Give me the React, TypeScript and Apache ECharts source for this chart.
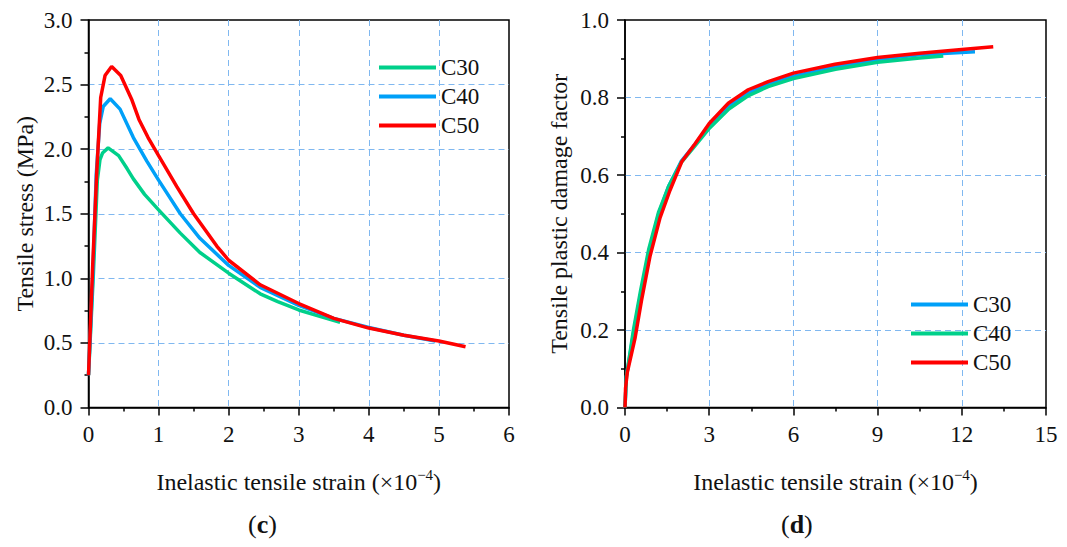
import React, { useEffect, useRef } from "react";
import * as echarts from "echarts";

// ---- Panel (c): tensile stress vs inelastic tensile strain ----
const stressC30: [number, number][] = [
  [0, 0.25], [0.07, 1.04], [0.126, 1.76], [0.164, 1.92], [0.2, 1.97], [0.28, 2.01],
  [0.43, 1.95], [0.55, 1.85], [0.64, 1.77], [0.8, 1.65], [1.0, 1.53], [1.31, 1.35],
  [1.59, 1.2], [2.0, 1.04], [2.45, 0.88], [2.7, 0.82], [3.0, 0.755], [3.3, 0.705], [3.59, 0.66],
];
const stressC40: [number, number][] = [
  [0, 0.25], [0.06, 1.0], [0.11, 1.8], [0.16, 2.2], [0.21, 2.33], [0.31, 2.39],
  [0.45, 2.31], [0.64, 2.09], [0.83, 1.91], [1.0, 1.76], [1.31, 1.5], [1.59, 1.31],
  [2.0, 1.1], [2.45, 0.93], [3.0, 0.79], [3.5, 0.69], [4.0, 0.62], [4.5, 0.56], [4.95, 0.515],
];
const stressC50: [number, number][] = [
  [0, 0.25], [0.06, 1.1], [0.117, 1.81], [0.174, 2.4], [0.236, 2.57], [0.33, 2.64],
  [0.46, 2.57], [0.62, 2.38], [0.72, 2.23], [0.85, 2.09], [1.0, 1.95], [1.26, 1.71], [1.5, 1.5],
  [1.83, 1.25], [2.0, 1.14], [2.45, 0.95], [3.0, 0.805], [3.5, 0.69], [4.0, 0.615],
  [4.5, 0.56], [5.0, 0.515], [5.38, 0.47],
];

// ---- Panel (d): tensile plastic damage factor vs inelastic tensile strain ----
const damageC30: [number, number][] = [
  [0, 0], [0.05, 0.08], [0.3, 0.19], [0.55, 0.29], [0.85, 0.4], [1.2, 0.5], [1.55, 0.57],
  [2.0, 0.635], [2.5, 0.68], [3.0, 0.727], [3.7, 0.778], [4.4, 0.812], [5.1, 0.834],
  [6.0, 0.855], [7.5, 0.879], [9.0, 0.898], [10.5, 0.91], [12.47, 0.918],
];
const damageC40: [number, number][] = [
  [0, 0], [0.05, 0.08], [0.3, 0.2], [0.55, 0.3], [0.85, 0.41], [1.2, 0.505], [1.55, 0.57],
  [2.0, 0.632], [2.5, 0.676], [3.0, 0.72], [3.7, 0.77], [4.4, 0.805], [5.1, 0.828],
  [6.0, 0.849], [7.5, 0.873], [9.0, 0.891], [10.5, 0.902], [11.34, 0.907],
];
const damageC50: [number, number][] = [
  [0, 0], [0.02, 0.05], [0.08, 0.09], [0.36, 0.18], [0.59, 0.277], [0.89, 0.39], [1.25, 0.49],
  [1.6, 0.56], [2.02, 0.634], [2.49, 0.68], [3.0, 0.733], [3.68, 0.785], [4.39, 0.82],
  [5.1, 0.841], [6.0, 0.863], [7.48, 0.886], [9.0, 0.903], [10.5, 0.914], [12.0, 0.924], [13.12, 0.931],
];

const legendNames = ["C30", "C40", "C50"];
const xTitle = "Inelastic tensile strain (×10";
const xTitleSup = "−4";
const yTitleC = "Tensile stress (MPa)";
const yTitleD = "Tensile plastic damage factor";
const panelC = "c";
const panelD = "d";

const GREEN = "#00d08a";
const BLUE = "#00a0f8";
const RED = "#ff0000";
const GRID_COLOR = "#80b8f0";
const FONT = "Liberation Serif";
const TICK_FS = 23;
const TITLE_FS = 24;

function makeX(gridIndex: number, max: number, interval: number) {
  return {
    type: "value",
    gridIndex,
    min: 0,
    max,
    interval,
    name: `{t|${xTitle}}{s|${xTitleSup}}{t|)}`,
    nameLocation: "middle",
    nameGap: 60,
    nameTextStyle: {
      rich: {
        t: { fontFamily: FONT, fontSize: TITLE_FS, color: "#111", lineHeight: 28 },
        s: { fontFamily: FONT, fontSize: 15, color: "#111", verticalAlign: "top", lineHeight: 28, padding: [0, 0, 11, 0] },
      },
    },
    axisLine: { show: true, onZero: false, lineStyle: { color: "#000", width: 1.5 } },
    axisTick: { show: true, length: 8, lineStyle: { color: "#000", width: 1.5 } },
    minorTick: { show: true, splitNumber: 2, length: 4, lineStyle: { color: "#000", width: 1.5 } },
    splitLine: { show: true, showMinLine: false, showMaxLine: false, lineStyle: { color: GRID_COLOR, type: [6, 4], width: 1 } },
    axisLabel: { fontFamily: FONT, fontSize: TICK_FS, color: "#111", margin: 15 },
  };
}

function makeY(gridIndex: number, max: number, interval: number, title: string, gap: number) {
  return {
    type: "value",
    gridIndex,
    min: 0,
    max,
    interval,
    name: title,
    nameLocation: "middle",
    nameGap: gap,
    nameTextStyle: { fontFamily: FONT, fontSize: TITLE_FS, color: "#111" },
    axisLine: { show: true, onZero: false, lineStyle: { color: "#000", width: 1.5 } },
    axisTick: { show: true, length: 8, lineStyle: { color: "#000", width: 1.5 } },
    minorTick: { show: true, splitNumber: 2, length: 4, lineStyle: { color: "#000", width: 1.5 } },
    splitLine: { show: true, showMinLine: false, showMaxLine: false, lineStyle: { color: GRID_COLOR, type: [6, 4], width: 1 } },
    axisLabel: {
      fontFamily: FONT, fontSize: TICK_FS, color: "#111", margin: 16,
      formatter: (v: number) => v.toFixed(1),
    },
  };
}

function line(name: string, data: [number, number][], color: string, idx: number) {
  return {
    type: "line",
    name,
    xAxisIndex: idx,
    yAxisIndex: idx,
    data,
    showSymbol: false,
    symbol: "none",
    lineStyle: { color, width: 3.5 },
    itemStyle: { color },
    z: 3,
  };
}

export default function App() {
  const ref = useRef<HTMLDivElement>(null);
  useEffect(() => {
    if (!ref.current) return;
    const chart = echarts.init(ref.current, undefined, { renderer: "svg" });
    const fmt = (n: string) => n.split(" ")[0];
    const legendCommon = {
      orient: "vertical",
      icon: "rect",
      itemWidth: 57,
      itemHeight: 4,
      itemGap: 6,
      padding: 0,
      selectedMode: false,
      formatter: fmt,
      textStyle: { fontFamily: FONT, fontSize: 23, color: "#111", lineHeight: 22 },
    };
    const panelText = (t: string) => ({
      text: `{p|(}{b|${t}}{p|)}`,
      rich: {
        p: { fontFamily: FONT, fontSize: 26, fill: "#111" },
        b: { fontFamily: FONT, fontSize: 26, fontWeight: "bold", fill: "#111" },
      },
    });
    chart.setOption({
      animation: false,
      backgroundColor: "#fff",
      grid: [
        { left: 88.5, top: 20, width: 420.5, height: 387.5, show: true, borderColor: "#000", borderWidth: 1.5, backgroundColor: "transparent" },
        { left: 625, top: 20, width: 421, height: 387.5, show: true, borderColor: "#000", borderWidth: 1.5, backgroundColor: "transparent" },
      ],
      xAxis: [makeX(0, 6, 1), makeX(1, 15, 3)],
      yAxis: [makeY(0, 3, 0.5, yTitleC, 52), makeY(1, 1, 0.2, yTitleD, 54)],
      legend: [
        { ...legendCommon, left: 379, top: 56, data: legendNames.map((n) => n + " c") },
        { ...legendCommon, left: 911, top: 293, data: legendNames.map((n) => n + " d") },
      ],
      series: [
        line("C30 c", stressC30, GREEN, 0),
        line("C40 c", stressC40, BLUE, 0),
        line("C50 c", stressC50, RED, 0),
        line("C30 d", damageC30, BLUE, 1),
        line("C40 d", damageC40, GREEN, 1),
        line("C50 d", damageC50, RED, 1),
      ],
      graphic: [
        { type: "text", left: 265 - 17, top: 511, style: panelText(panelC) },
        { type: "text", left: 799 - 18, top: 511, style: panelText(panelD) },
      ],
    });
    return () => chart.dispose();
  }, []);
  return (
    <div
      ref={ref}
      style={{ position: "fixed", left: 0, top: 0, width: 1067, height: 547, background: "#fff" }}
    />
  );
}
